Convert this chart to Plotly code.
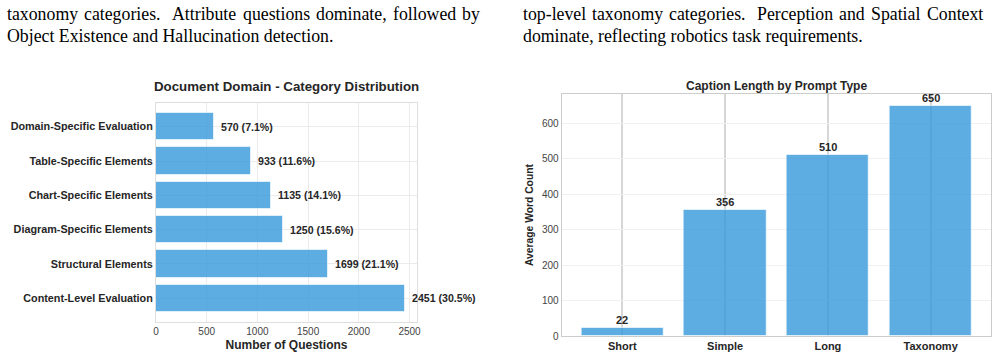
import plotly.graph_objects as go

# ---- data ----
doc_categories = ["Content-Level Evaluation", "Structural Elements", "Diagram-Specific Elements",
                  "Chart-Specific Elements", "Table-Specific Elements", "Domain-Specific Evaluation"]
doc_counts = [2451, 1699, 1250, 1135, 933, 570]
doc_pcts = [30.5, 21.1, 15.6, 14.1, 11.6, 7.1]
doc_xticks = [0, 500, 1000, 1500, 2000, 2500]

prompt_types = ["Short", "Simple", "Long", "Taxonomy"]
avg_words = [22, 356, 510, 650]
word_yticks = [0, 100, 200, 300, 400, 500, 600]

# surrounding paper text (justified first lines placed word by word)
left_line1_words = ["taxonomy", "categories.", "Attribute", "questions", "dominate,", "followed", "by"]
left_line1_x = [7.0, 84.4, 172.1, 242.5, 315.9, 392.7, 462.2]
left_line2 = "Object Existence and Hallucination detection."
right_line1_words = ["top-level", "taxonomy", "categories.", "Perception", "and", "Spatial", "Context"]
right_line1_x = [522.7, 592.1, 669.4, 757.0, 839.2, 871.0, 926.5]
right_line2 = "dominate, reflecting robotics task requirements."

BAR = "rgba(52,152,219,0.8)"
EDGE = "rgba(255,255,255,0.6)"
SANS = "Liberation Sans, Arial, sans-serif"
SERIF = "Liberation Serif, Times New Roman, serif"
W, H = 1002, 358

fig = go.Figure()

fig.add_trace(go.Bar(
    y=list(range(len(doc_categories))), x=doc_counts, orientation="h", width=0.8,
    marker=dict(color=BAR, line=dict(color=EDGE, width=1)),
    xaxis="x", yaxis="y", hoverinfo="skip", showlegend=False))

fig.add_trace(go.Bar(
    x=list(range(len(prompt_types))), y=avg_words, width=0.8,
    marker=dict(color=BAR, line=dict(color=EDGE, width=1)),
    xaxis="x2", yaxis="y2", hoverinfo="skip", showlegend=False))

annotations = []
for i, (c, p) in enumerate(zip(doc_counts, doc_pcts)):
    annotations.append(dict(x=c + 50, y=i, xref="x", yref="y", text=f"<b>{c} ({p}%)</b>",
                            showarrow=False, xanchor="left", yanchor="middle",
                            font=dict(family=SANS, size=10.6, color="#262626")))
for i, v in enumerate(avg_words):
    annotations.append(dict(x=i, y=v, xref="x2", yref="y2", text=f"<b>{v}</b>",
                            showarrow=False, xanchor="center", yanchor="bottom", yshift=0,
                            font=dict(family=SANS, size=11, color="#262626")))

# titles
annotations.append(dict(x=286.5 / W, y=1 - 86 / H, xref="paper", yref="paper",
                        text="<b>Document Domain - Category Distribution</b>", showarrow=False,
                        xanchor="center", yanchor="middle",
                        font=dict(family=SANS, size=13.3, color="#262626")))
annotations.append(dict(x=776.5 / W, y=1 - 86 / H, xref="paper", yref="paper",
                        text="<b>Caption Length by Prompt Type</b>", showarrow=False,
                        xanchor="center", yanchor="middle",
                        font=dict(family=SERIF if False else SANS, size=12, color="#262626")))

# paper text
serif_font = dict(family=SERIF, size=17.8, color="#000")


def add_text(text, px, py):
    annotations.append(dict(x=(px - 2) / W, y=1 - py / H, xref="paper", yref="paper",
                            text=text, showarrow=False, xanchor="left", yanchor="middle",
                            font=serif_font))


for word, px in zip(left_line1_words, left_line1_x):
    add_text(word, px, 14)
add_text(left_line2, 7.0, 36)
for word, px in zip(right_line1_words, right_line1_x):
    add_text(word, px, 14)
add_text(right_line2, 522.7, 36)

fig.update_layout(
    template="none",
    width=W, height=H, margin=dict(l=0, r=0, t=0, b=0, autoexpand=False),
    paper_bgcolor="white", plot_bgcolor="white", bargap=0,
    font=dict(family=SANS, color="#333"),
    annotations=annotations,
    xaxis=dict(domain=[156 / W, 417 / W], anchor="y", range=[0, 2573.55], automargin=False,
               tickvals=doc_xticks, ticks="", tickfont=dict(size=10, color="#444"),
               showgrid=True, gridcolor="#ebebeb", gridwidth=1, zeroline=False,
               showline=True, mirror=True, linecolor="#dedede", linewidth=1,
               title=dict(text="<b>Number of Questions</b>", standoff=4,
                          font=dict(size=12, color="#262626"))),
    yaxis=dict(domain=[1 - 322 / H, 1 - 103 / H], anchor="x", range=[-0.69, 5.69],
               automargin=False,
               tickvals=list(range(len(doc_categories))),
               ticktext=[f"<b>{c}</b>" for c in doc_categories], ticks="", ticklen=0,
               tickfont=dict(size=10.8, color="#262626"),
               showgrid=True, gridcolor="#ebebeb", gridwidth=1, zeroline=False,
               showline=True, mirror=True, linecolor="#dedede", linewidth=1),
    xaxis2=dict(domain=[561.7 / W, 991.3 / W], anchor="y2", range=[-0.59, 3.59],
                automargin=False,
                tickvals=list(range(len(prompt_types))),
                ticktext=[f"<b>{p}</b>" for p in prompt_types], ticks="",
                tickfont=dict(size=11, color="#262626"),
                showgrid=True, gridcolor="#d6d6d6", gridwidth=1.5, zeroline=False,
                showline=True, mirror=True, linecolor="#cccccc", linewidth=1.2),
    yaxis2=dict(domain=[1 - 336 / H, 1 - 94 / H], anchor="x2", range=[0, 682.5],
                automargin=False,
                tickvals=word_yticks, ticks="", tickfont=dict(size=10, color="#444"),
                showgrid=True, gridcolor="#f0f0f0", gridwidth=1, zeroline=False,
                showline=True, mirror=True, linecolor="#cccccc", linewidth=1.2,
                title=dict(text="<b>Average Word Count</b>", standoff=6,
                           font=dict(size=10.3, color="#262626"))),
)

fig.write_html("out.html")
